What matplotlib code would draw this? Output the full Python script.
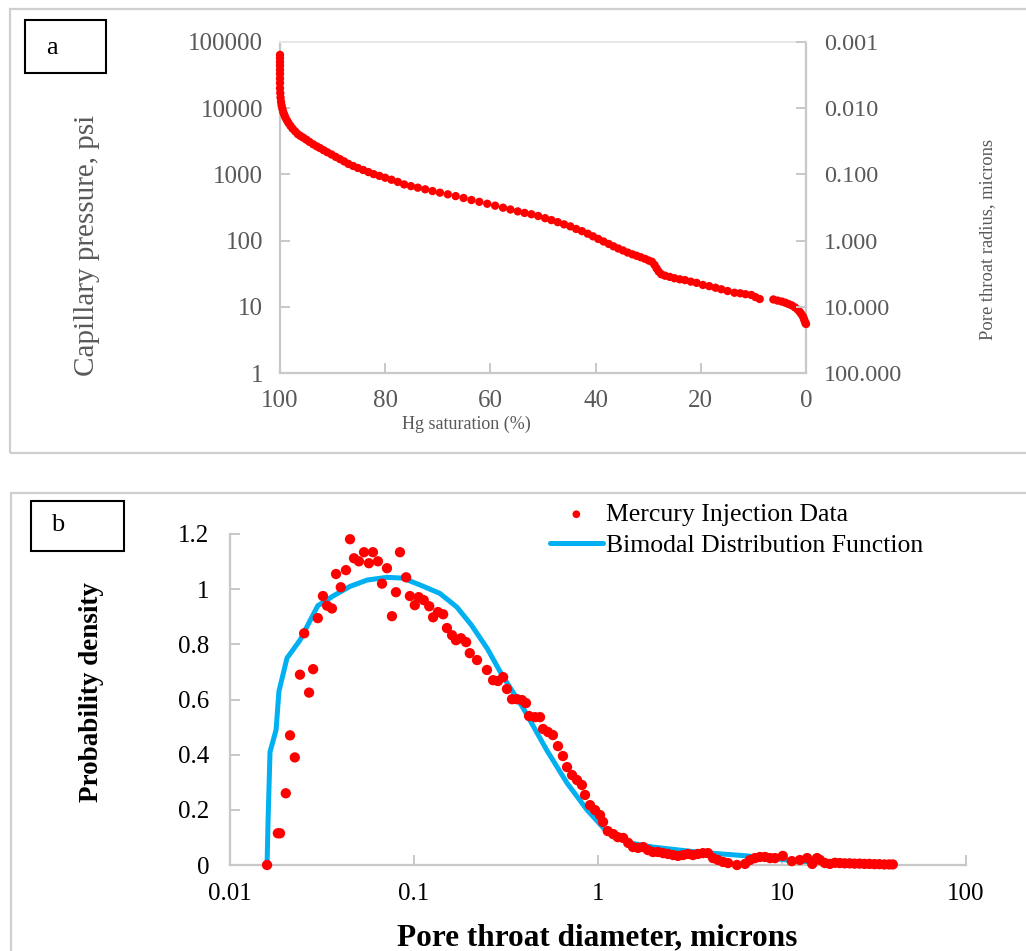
import matplotlib
matplotlib.use("Agg")
import matplotlib.pyplot as plt
from matplotlib.patches import Rectangle
from matplotlib.ticker import FixedLocator, FixedFormatter, NullLocator

# ---------------- Panel a data: capillary pressure curve ----------------
hg_saturation = [
    100.0, 100.0, 100.0, 100.0, 100.0, 100.0, 100.0, 100.0, 100.0, 99.95,
    99.9, 99.8, 99.7, 99.55, 99.4, 99.2, 99.0, 98.7, 98.4, 98.0,
    97.6, 97.1, 96.6, 96.1, 95.6, 95.0, 94.4, 93.7, 93.0, 92.4,
    91.7, 91.0, 90.2, 89.4, 88.6, 87.8, 87.0, 86.1, 85.2, 84.2,
    83.2, 82.2, 81.1, 80.0, 78.8, 77.6, 76.4, 75.1, 73.8, 72.4,
    71.0, 69.6, 68.1, 66.6, 65.1, 63.6, 62.1, 60.6, 59.1, 57.6,
    56.2, 54.8, 53.5, 52.2, 50.9, 49.6, 48.4, 47.2, 46.0, 44.8,
    43.7, 42.6, 41.5, 40.5, 39.5, 38.5, 37.5, 36.6, 35.7, 34.8,
    33.9, 33.0, 32.2, 31.4, 30.6, 29.9, 29.3, 28.8, 28.4, 28.0,
    27.5, 26.8, 25.9, 25.0, 24.0, 23.0, 21.9, 20.8, 19.6, 18.4,
    17.2, 16.1, 14.9, 13.6, 12.5, 11.5, 10.4, 9.6, 8.8, 6.2,
    5.4, 4.6, 3.9, 3.3, 2.7, 2.1, 1.6, 1.2, 0.9, 0.6,
    0.4, 0.25, 0.1, 0.0,
]
capillary_pressure = [
    64000, 57000, 50000, 44000, 38000, 33000, 28000, 24000, 20000, 17000,
    14500, 12500, 11000, 9800, 8800, 8000, 7300, 6600, 6000, 5400,
    4900, 4450, 4050, 3800, 3600, 3350, 3100, 2850, 2650, 2500,
    2320, 2160, 2000, 1840, 1700, 1570, 1440, 1340, 1250, 1165,
    1085, 1010, 950, 890, 830, 770, 705, 665, 630, 595,
    560, 530, 500, 470, 440, 410, 385, 360, 337, 314,
    295, 276, 262, 250, 235, 218, 204, 190, 176, 164,
    150, 139, 127, 116, 106, 97, 89, 82, 76, 71,
    66, 62, 59, 56, 53, 50, 48, 43, 38, 34,
    31, 29.5, 28.3, 27, 26, 25.3, 24, 23, 21.4, 20.5,
    19.4, 18.4, 17.3, 16.3, 16.0, 15.5, 15.1, 14, 13.1, 12.9,
    12.4, 12.0, 11.5, 11.0, 10.5, 9.8, 9.1, 8.4, 7.8, 7.2,
    6.6, 6.1, 5.7, 5.5,
]
a_xticks = [100, 80, 60, 40, 20, 0]
a_yticks = [1, 10, 100, 1000, 10000, 100000]
a_ytick_labels = ["1", "10", "100", "1000", "10000", "100000"]
a_right_labels = ["100.000", "10.000", "1.000", "0.100", "0.010", "0.001"]

# ---------------- Panel b data: pore throat distribution ----------------
mi_diameter = [
    0.0159, 0.0182, 0.0187, 0.0201, 0.0212, 0.0225, 0.0240, 0.0253, 0.0269, 0.0283,
    0.0300, 0.0320, 0.0337, 0.0358, 0.0377, 0.0400, 0.0427, 0.0449, 0.0472, 0.0502,
    0.0535, 0.0569, 0.0598, 0.0637, 0.0670, 0.0713, 0.0759, 0.0798, 0.0839, 0.0906,
    0.095, 0.101, 0.106, 0.113, 0.121, 0.127, 0.135, 0.144, 0.151, 0.161,
    0.169, 0.180, 0.192, 0.201, 0.220, 0.249, 0.269, 0.286, 0.305, 0.320,
    0.341, 0.363, 0.386, 0.406, 0.422, 0.455, 0.484, 0.503, 0.535, 0.569,
    0.606, 0.645, 0.679, 0.723, 0.769, 0.818, 0.850, 0.905, 0.964, 1.026,
    1.065, 1.13, 1.21, 1.28, 1.37, 1.46, 1.55, 1.65, 1.76, 1.87,
    1.99, 2.12, 2.26, 2.40, 2.56, 2.72, 2.90, 3.08, 3.28, 3.49,
    3.72, 3.96, 4.22, 4.49, 4.78, 5.09, 5.69, 6.30, 6.70, 7.13,
    7.59, 8.09, 8.61, 9.16, 10.1, 11.3, 12.5, 13.7, 14.6, 15.5,
    16.1, 17.1, 18.2, 19.4, 20.6, 21.9, 23.3, 24.8, 26.4, 28.1,
    29.9, 31.8, 33.8, 36.0, 38.2, 40.0,
]
mi_density = [
    0.0, 0.115, 0.115, 0.26, 0.47, 0.39, 0.69, 0.84, 0.625, 0.71,
    0.895, 0.975, 0.94, 0.93, 1.055, 1.007, 1.069, 1.181, 1.112, 1.101,
    1.134, 1.094, 1.134, 1.101, 1.02, 1.076, 0.902, 0.989, 1.134, 1.043,
    0.975, 0.942, 0.971, 0.96, 0.938, 0.898, 0.917, 0.909, 0.859, 0.833,
    0.815, 0.822, 0.808, 0.768, 0.743, 0.707, 0.67, 0.667, 0.681, 0.638,
    0.601, 0.601, 0.598, 0.587, 0.54, 0.536, 0.536, 0.493, 0.482, 0.471,
    0.431, 0.395, 0.355, 0.326, 0.308, 0.29, 0.254, 0.217, 0.199, 0.181,
    0.156, 0.123, 0.112, 0.101, 0.098, 0.08, 0.065, 0.062, 0.065, 0.054,
    0.047, 0.047, 0.043, 0.04, 0.036, 0.033, 0.036, 0.04, 0.036, 0.04,
    0.043, 0.043, 0.025, 0.018, 0.011, 0.007, 0.0, 0.004, 0.018, 0.025,
    0.029, 0.029, 0.025, 0.025, 0.033, 0.014, 0.018, 0.025, 0.004, 0.025,
    0.018, 0.007, 0.004, 0.008, 0.007, 0.006, 0.006, 0.005, 0.005, 0.004,
    0.004, 0.003, 0.003, 0.002, 0.002, 0.002,
]
bimodal_diameter = [
    0.0159, 0.0161, 0.0165, 0.0178, 0.01845, 0.0204, 0.024, 0.030, 0.0363, 0.0449,
    0.0556, 0.0713, 0.087, 0.108, 0.138, 0.171, 0.205, 0.25, 0.30, 0.391,
    0.528, 0.679, 0.871, 1.12, 1.49, 1.99, 3.45, 6.46, 10.0, 15.0, 18.0,
]
bimodal_density = [
    0.0, 0.16, 0.41, 0.49, 0.63, 0.75, 0.815, 0.94, 0.975, 1.01,
    1.033, 1.043, 1.04, 1.015, 0.985, 0.935, 0.87, 0.785, 0.69, 0.57,
    0.415, 0.297, 0.2, 0.12, 0.08, 0.065, 0.047, 0.033, 0.02, 0.008, 0.0,
]
b_xticks = [0.01, 0.1, 1, 10, 100]
b_xtick_labels = ["0.01", "0.1", "1", "10", "100"]
b_yticks = [0, 0.2, 0.4, 0.6, 0.8, 1.0, 1.2]
b_ytick_labels = ["0", "0.2", "0.4", "0.6", "0.8", "1", "1.2"]

# ---------------- Figure ----------------
W, H = 1026, 951
plt.rcParams["font.family"] = ["Liberation Serif", "DejaVu Serif"]
fig = plt.figure(figsize=(W / 100, H / 100), dpi=100)

def fx(px):
    return px / W

def fy(py):
    return 1 - py / H

GRAY_SPINE = "#c8c8c8"
GRAY_TEXT = "#595959"

# Panel frames
fig.patches.append(Rectangle((fx(10), fy(453)), fx(1040) - fx(10), fy(9) - fy(453),
                             transform=fig.transFigure, fill=False,
                             edgecolor="#cfcfcf", lw=1.6))
fig.patches.append(Rectangle((fx(11), fy(960)), fx(1040) - fx(11), fy(493) - fy(960),
                             transform=fig.transFigure, fill=False,
                             edgecolor="#cfcfcf", lw=1.6))
# Label boxes
fig.patches.append(Rectangle((fx(25), fy(73)), fx(106) - fx(25), fy(20) - fy(73),
                             transform=fig.transFigure, fill=False,
                             edgecolor="black", lw=1.5))
fig.text(fx(52), fy(48), "a", fontsize=19, ha="center", va="center")
fig.patches.append(Rectangle((fx(31), fy(551)), fx(124) - fx(31), fy(501) - fy(551),
                             transform=fig.transFigure, fill=False,
                             edgecolor="black", lw=1.5))
fig.text(fx(58), fy(525), "b", fontsize=19, ha="center", va="center")

# ---------------- Panel a ----------------
axa = fig.add_axes([fx(280), fy(373), fx(806) - fx(280), fy(42) - fy(373)])
axa.scatter(hg_saturation, capillary_pressure, s=36, color="#ff0000",
            edgecolors="none", zorder=3, clip_on=False)
axa.set_yscale("log")
axa.set_ylim(1, 100000)
axa.set_xlim(100, 0)
axa.yaxis.set_major_locator(FixedLocator(a_yticks))
axa.yaxis.set_major_formatter(FixedFormatter(a_ytick_labels))
axa.yaxis.set_minor_locator(NullLocator())
axa.set_xticks(a_xticks)
axa.set_xticklabels([str(v) for v in a_xticks])
for side in ["left", "right", "bottom"]:
    axa.spines[side].set_color(GRAY_SPINE)
    axa.spines[side].set_linewidth(1.6)
axa.spines["top"].set_color("#e8e8e8")
axa.spines["top"].set_linewidth(1.4)
axa.tick_params(axis="y", direction="in", length=7, width=1.4, color=GRAY_SPINE,
                labelsize=18, labelcolor=GRAY_TEXT, pad=12)
axa.tick_params(axis="x", direction="in", length=7, width=1.4, color=GRAY_SPINE,
                labelsize=18, labelcolor=GRAY_TEXT, pad=12)

axr = axa.twinx()
axr.set_yscale("log")
axr.set_ylim(1, 100000)
axr.yaxis.set_major_locator(FixedLocator(a_yticks))
axr.yaxis.set_major_formatter(FixedFormatter(a_right_labels))
axr.yaxis.set_minor_locator(NullLocator())
for side in ["left", "right", "bottom", "top"]:
    axr.spines[side].set_visible(False)
axr.tick_params(axis="y", direction="in", length=7, width=1.4, color=GRAY_SPINE,
                labelsize=17.5, labelcolor=GRAY_TEXT, pad=13)

fig.text(fx(87), fy(245), "Capillary pressure, psi", rotation=90, fontsize=21,
         color=GRAY_TEXT, ha="center", va="center")
fig.text(fx(988), fy(240), "Pore throat radius, microns", rotation=90, fontsize=13.3,
         color=GRAY_TEXT, ha="center", va="center")
fig.text(fx(466), fy(424), "Hg saturation (%)", fontsize=13,
         color=GRAY_TEXT, ha="center", va="center")

# ---------------- Panel b ----------------
axb = fig.add_axes([fx(230), fy(865), fx(966) - fx(230), fy(534) - fy(865)])
axb.plot(bimodal_diameter, bimodal_density, color="#00b0f0", lw=3.6,
         solid_capstyle="round", solid_joinstyle="round",
         label="Bimodal Distribution Function", zorder=2)
axb.scatter(mi_diameter, mi_density, s=55, color="#ff0000", edgecolors="none",
            label="Mercury Injection Data", zorder=3, clip_on=False)
axb.set_xscale("log")
axb.set_xlim(0.01, 100)
axb.set_ylim(0, 1.2)
axb.xaxis.set_major_locator(FixedLocator(b_xticks))
axb.xaxis.set_major_formatter(FixedFormatter(b_xtick_labels))
axb.xaxis.set_minor_locator(NullLocator())
axb.yaxis.set_major_locator(FixedLocator(b_yticks))
axb.yaxis.set_major_formatter(FixedFormatter(b_ytick_labels))
for side in ["top", "right"]:
    axb.spines[side].set_visible(False)
for side in ["left", "bottom"]:
    axb.spines[side].set_color(GRAY_SPINE)
    axb.spines[side].set_linewidth(1.6)
axb.tick_params(axis="y", direction="in", length=7, width=1.4, color=GRAY_SPINE,
                labelsize=18, labelcolor="black", pad=15)
axb.tick_params(axis="x", direction="in", length=7, width=1.4, color=GRAY_SPINE,
                labelsize=18, labelcolor="black", pad=13)

handles, labels = axb.get_legend_handles_labels()
order = [1, 0]
leg = axb.legend([handles[i] for i in order], [labels[i] for i in order],
                 loc="upper left", bbox_to_anchor=(fx(550), fy(503)),
                 bbox_transform=fig.transFigure, frameon=False, fontsize=18.5,
                 handlelength=2.05, handletextpad=0.12, labelspacing=0.32,
                 borderaxespad=0, borderpad=0, markerscale=0.75)

fig.text(fx(92), fy(692), "Probability density", rotation=90, fontsize=19.5,
         fontweight="bold", ha="center", va="center")
fig.text(fx(597), fy(938), "Pore throat diameter, microns", fontsize=22.5,
         fontweight="bold", ha="center", va="center")

fig.savefig("out.png", dpi=100)
